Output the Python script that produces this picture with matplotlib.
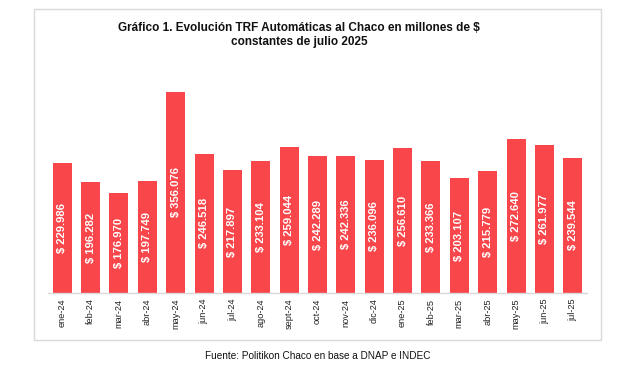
import matplotlib
matplotlib.use("Agg")
import matplotlib.pyplot as plt
from matplotlib.patches import Rectangle

categories = ["ene-24", "feb-24", "mar-24", "abr-24", "may-24", "jun-24", "jul-24",
              "ago-24", "sept-24", "oct-24", "nov-24", "dic-24", "ene-25", "feb-25",
              "mar-25", "abr-25", "may-25", "jun-25", "jul-25"]
values = [229.986, 196.282, 176.970, 197.749, 356.076, 246.518, 217.897,
          233.104, 259.044, 242.289, 242.336, 236.096, 256.610, 233.366,
          203.107, 215.779, 272.640, 261.977, 239.544]
labels = ["$ 229.986", "$ 196.282", "$ 176.970", "$ 197.749", "$ 356.076", "$ 246.518",
          "$ 217.897", "$ 233.104", "$ 259.044", "$ 242.289", "$ 242.336", "$ 236.096",
          "$ 256.610", "$ 233.366", "$ 203.107", "$ 215.779", "$ 272.640", "$ 261.977",
          "$ 239.544"]
title = "Gráfico 1. Evolución TRF Automáticas al Chaco en millones de $\nconstantes de julio 2025"
source = "Fuente: Politikon Chaco en base a DNAP e INDEC"

W, H = 636, 372
fig = plt.figure(figsize=(W / 100, H / 100), dpi=100)

# outer border
fig.patches.append(Rectangle((34 / W, 1 - 340 / H), (601 - 34) / W, (340 - 9) / H,
                             transform=fig.transFigure, fill=False,
                             edgecolor="#D9D9D9", linewidth=1.0))

ax = fig.add_axes([48 / W, 1 - 293 / H, (587 - 48) / W, (293 - 67) / H])
x = list(range(len(categories)))
bars = ax.bar(x, values, width=0.67, color="#F8464A")
ax.set_xlim(-0.5, len(categories) - 0.5)
ax.set_ylim(0, 400)
for s in ["top", "right", "left"]:
    ax.spines[s].set_visible(False)
ax.spines["bottom"].set_color("#D9D9D9")
ax.spines["bottom"].set_linewidth(1.0)
ax.set_yticks([])
ax.set_xticks(x)
ax.set_xticklabels(categories, rotation=90, fontsize=6.6, color="#222222",
                   family="Liberation Sans")
ax.tick_params(axis="x", length=0, pad=4)

for xi, v, lab in zip(x, values, labels):
    ax.text(xi, v / 2, lab, rotation=90, ha="center", va="center",
            color="white", fontsize=8.1, fontweight="bold", family="Liberation Sans")

fig.text(299 / W, 1 - 35 / H, title, ha="center", va="center", fontsize=8.5,
         fontweight="bold", family="Liberation Sans", color="#111111", linespacing=1.25)
fig.text(318 / W, 1 - 356 / H, source, ha="center", va="center", fontsize=7.2,
         family="Liberation Sans", color="#111111")

fig.savefig("out.png", dpi=100)
